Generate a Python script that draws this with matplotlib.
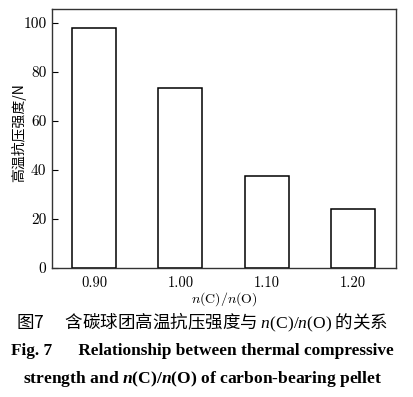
import numpy as np
import matplotlib
matplotlib.use('Agg')
import matplotlib.pyplot as plt

# n(C)/n(O) ratios and high-temperature compressive strength (N)
ratios = ['0.90', '1.00', '1.10', '1.20']
strength = [97.7, 73.3, 37.5, 24.0]
yticks = [0, 20, 40, 60, 80, 100]

plt.rcParams['mathtext.fontset'] = 'custom'
plt.rcParams['mathtext.rm'] = 'Liberation Serif'
plt.rcParams['mathtext.it'] = 'Liberation Serif:italic'
plt.rcParams['mathtext.bf'] = 'Liberation Serif:bold'
plt.rcParams['mathtext.bfit'] = 'Liberation Serif:italic:bold'

fig = plt.figure(figsize=(4.14, 3.97), dpi=100)
ax = fig.add_axes([0.1256, 0.325, 0.8309, 0.652])

x = np.arange(len(ratios))
ax.bar(x, strength, width=0.51, color='white', edgecolor='black', linewidth=1.1)

ax.set_xlim(-0.49, 3.5)
ax.set_ylim(0, 105.5)
ax.set_xticks(x)
ax.set_xticklabels(ratios, family='cmr10', fontsize=10.5)
ax.set_yticks(yticks)
ax.set_yticklabels([str(v) for v in yticks], family='cmr10', fontsize=11)
ax.tick_params(axis='x', length=0, pad=6)
ax.tick_params(axis='y', direction='in', length=4, width=0.8, pad=4)
for s in ax.spines.values():
    s.set_linewidth(1.0)
    s.set_color('#333333')

ax.set_xlabel(r'$n$(C)/$n$(O)', family='cmr10', math_fontfamily='cm',
              fontsize=10, labelpad=0)
fig.text(0.044, 0.667, '高温抗压强度/N', family='Noto Sans CJK SC', fontsize=10,
         rotation=90, ha='center', va='center')

fig.text(0.488, 0.189, '图7\u3000 含碳球团高温抗压强度与 $n\\mathrm{(C)/}n\\mathrm{(O)}$ 的关系',
         family='Noto Sans CJK SC', fontsize=12.6, ha='center', va='center')
fig.text(0.488, 0.116, 'Fig. 7      Relationship between thermal compressive',
         family='Liberation Serif', fontweight='bold', fontsize=12.4,
         ha='center', va='center')
fig.text(0.49, 0.045,
         r'strength and $\mathbfit{n}\mathbf{(C)/}\mathbfit{n}\mathbf{(O)}$ of carbon-bearing pellet',
         family='Liberation Serif', fontweight='bold', fontsize=12.6,
         ha='center', va='center')

fig.savefig('out.png', dpi=100)
